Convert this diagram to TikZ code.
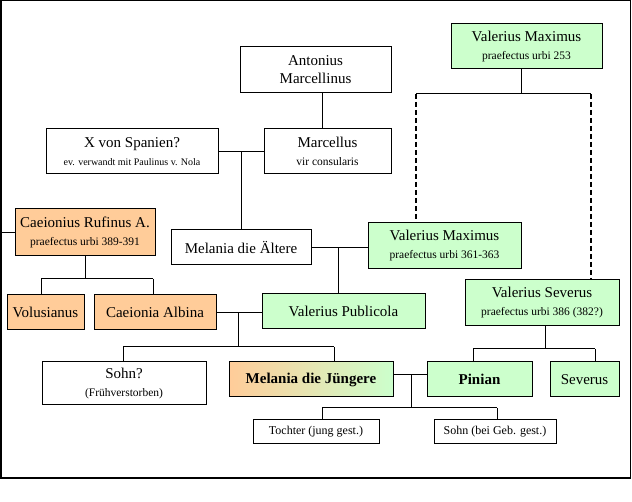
\documentclass[tikz,border=0pt]{standalone}
\usepackage{fontspec}
\setmainfont{Liberation Serif}
\definecolor{lgreen}{HTML}{CCFFCC}
\definecolor{lorange}{HTML}{FFCC99}
\newcommand\smalltxt[1]{{\fontsize{11.5}{14}\selectfont #1}}
\begin{document}
\begin{tikzpicture}[x=1pt,y=-1pt,
  box/.style={draw, line width=1pt, inner sep=0pt, align=center, font=\fontsize{15}{18}\selectfont},
  gbox/.style={box, fill=lgreen},
  obox/.style={box, fill=lorange},
  conn/.style={line width=1pt},
  dconn/.style={line width=1.8pt, dash pattern=on 5pt off 3pt}
]
\useasboundingbox (0,0) rectangle (632,502);
\draw[line width=1.5pt] (0.75,0.75) rectangle (630.5,478);

% nodes
\node[box, minimum width=151, minimum height=46] (am) at (315.5,70) {Antonius\\Marcellinus};
\node[gbox, minimum width=151, minimum height=45] (vma) at (526.5,46.5) {Valerius Maximus\\\smalltxt{praefectus urbi 253}};
\node[box, minimum width=172, minimum height=45] (xs) at (132,151.5) {X von Spanien?\\{\fontsize{10}{13}\selectfont ev. verwandt mit Paulinus v. Nola}};
\node[box, minimum width=127, minimum height=45] (mc) at (327.5,151.5) {Marcellus\\\smalltxt{vir consularis}};
\node[obox, minimum width=140, minimum height=47] (cr) at (85,232.5) {Caeionius Rufinus A.\\\smalltxt{praefectus urbi 389-391}};
\node[box, minimum width=140, minimum height=35] (ma) at (241,247.5) {Melania die Ältere};
\node[gbox, minimum width=153, minimum height=46] (vmb) at (444.5,246) {Valerius Maximus\\\smalltxt{praefectus urbi 361-363}};
\node[obox, minimum width=77, minimum height=35] (vol) at (45.5,312.5) {Volusianus};
\node[obox, minimum width=122, minimum height=35] (ca) at (155,312.5) {Caeionia Albina};
\node[gbox, minimum width=163, minimum height=35] (vp) at (343.5,311.5) {Valerius Publicola};
\node[gbox, minimum width=154, minimum height=46] (vs) at (542,303) {Valerius Severus\\\smalltxt{praefectus urbi 386 (382?)}};
\node[box, minimum width=164, minimum height=43] (so) at (124,383.5) {Sohn?\\\smalltxt{(Frühverstorben)}};
\node[box, shading=axis, left color=lorange, right color=lgreen, minimum width=164, minimum height=35] (mj) at (311,379.5) {\textbf{Melania die Jüngere}};
\node[gbox, minimum width=105, minimum height=35] (pi) at (479.5,379.5) {\textbf{Pinian}};
\node[gbox, minimum width=69, minimum height=35] (sev) at (584.5,379.5) {Severus};
\node[box, font=\fontsize{12}{14}\selectfont, minimum width=126, minimum height=24] (to) at (316,432) {Tochter (jung gest.)};
\node[box, font=\fontsize{12}{14}\selectfont, minimum width=122, minimum height=24] (sb) at (495,432) {Sohn (bei Geb. gest.)};

% Valerius Maximus branch
\coordinate (vmj) at (521,94);
\coordinate (dl) at (416,94);
\coordinate (dr) at (591,94);
\draw[conn] (vma.south -| vmj) -- (vmj);
\draw[conn] (dl) -- (dr);
\draw[dconn] (dl) -- (dl |- vmb.north);
\draw[dconn] (dr) -- (dr |- vs.north);

% Antonius -> Marcellus
\coordinate (k1) at (322,0);
\draw[conn] (am.south -| k1) -- (mc.north -| k1);
% X von Spanien + Marcellus -> Melania d. Ä.
\draw[conn] (xs.east) -- (xs.east -| mc.west);
\coordinate (k2) at (241,151.5);
\draw[conn] (k2) -- (ma.north);
% Melania d. Ä. + Valerius Maximus -> Publicola
\draw[conn] (ma.east) -- (ma.east -| vmb.west);
\coordinate (k3) at (338,247.5);
\draw[conn] (k3) -- (vp.north -| k3);
% Caeionius Rufinus
\coordinate (edge) at (1.5,232.5);
\draw[conn] (edge) -- (edge -| cr.west);
\coordinate (k4) at (85,279);
\coordinate (k4l) at (41,279);
\coordinate (k4r) at (153,279);
\draw[conn] (cr.south) -- (k4);
\draw[conn] (k4l) -- (k4r);
\draw[conn] (k4l) -- (vol.north -| k4l);
\draw[conn] (k4r) -- (ca.north -| k4r);
% Albina + Publicola
\draw[conn] (ca.east) -- (ca.east -| vp.west);
\coordinate (k5) at (238,312.5);
\coordinate (k5b) at (238,347);
\coordinate (k5l) at (123,347);
\coordinate (k5r) at (334,347);
\draw[conn] (k5) -- (k5b);
\draw[conn] (k5l) -- (k5r);
\draw[conn] (k5l) -- (so.north -| k5l);
\draw[conn] (k5r) -- (mj.north -| k5r);
% Valerius Severus
\coordinate (k6) at (545,0);
\coordinate (k6b) at (545,349);
\coordinate (k6l) at (473,349);
\coordinate (k6r) at (595,349);
\draw[conn] (vs.south -| k6) -- (k6b);
\draw[conn] (k6l) -- (k6r);
\draw[conn] (k6l) -- (pi.north -| k6l);
\draw[conn] (k6r) -- (sev.north -| k6r);
% Melania d. J. + Pinian
\coordinate (k7) at (411,375);
\coordinate (k7b) at (411,408);
\coordinate (k7l) at (322,408);
\coordinate (k7r) at (497,408);
\draw[conn] (k7 -| mj.east) -- (k7 -| pi.west);
\draw[conn] (k7) -- (k7b);
\draw[conn] (k7l) -- (k7r);
\draw[conn] (k7l) -- (to.north -| k7l);
\draw[conn] (k7r) -- (sb.north -| k7r);
\end{tikzpicture}
\end{document}
